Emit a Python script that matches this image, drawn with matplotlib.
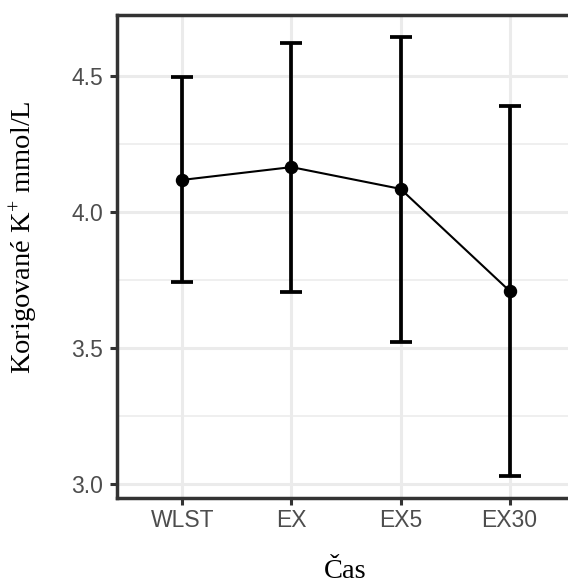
import numpy as np
import matplotlib
matplotlib.use("Agg")
import matplotlib.pyplot as plt
from matplotlib.ticker import MultipleLocator, FormatStrFormatter

# data
categories = ["WLST", "EX", "EX5", "EX30"]
means = [4.118, 4.165, 4.085, 3.710]
upper = [4.496, 4.621, 4.643, 4.390]
lower = [3.743, 3.706, 3.522, 3.029]

plt.rcParams["mathtext.default"] = "regular"

fig = plt.figure(figsize=(5.68, 5.88), dpi=100)
# panel runs past the right edge of the picture, like the reference crop
ax = fig.add_axes([117 / 568, 1 - 498 / 588, 458 / 568, 483 / 588])

x = np.arange(1, len(categories) + 1)
m = np.array(means)
yerr = [m - np.array(lower), np.array(upper) - m]

ax.errorbar(x, m, yerr=yerr, fmt="none", ecolor="black", elinewidth=2.7,
            capsize=8, capthick=2.7, zorder=3)
ax.plot(x, m, color="black", lw=1.5, zorder=4)
ax.scatter(x, m, s=75, color="black", zorder=5)

ax.set_xlim(0.4, 4.6)
ax.set_ylim(2.949, 4.724)
ax.set_xticks(x)
ax.set_xticklabels(categories)
ax.yaxis.set_major_locator(MultipleLocator(0.5))
ax.yaxis.set_minor_locator(MultipleLocator(0.25))
ax.yaxis.set_major_formatter(FormatStrFormatter("%.1f"))

ax.grid(which="major", color="#EBEBEB", lw=2.2, zorder=0)
ax.grid(which="minor", axis="y", color="#EBEBEB", lw=1.1, zorder=0)
ax.set_axisbelow(True)

for s in ax.spines.values():
    s.set_color("#333333")
    s.set_linewidth(2.5)

ax.tick_params(which="major", length=5, width=2.2, color="#333333",
               labelsize=16.5, labelcolor="#4D4D4D", pad=3)
ax.tick_params(axis="y", which="major", pad=5)
ax.tick_params(which="minor", length=0)
for lab in ax.get_xticklabels() + ax.get_yticklabels():
    lab.set_fontfamily("Liberation Sans")

# axis titles placed in figure pixels
fig.text(24 / 568, 1 - 237 / 588, "Korigované K$^{+}$ mmol/L",
         family="Liberation Serif", fontsize=20.5, rotation=90,
         ha="center", va="center")
fig.text(345 / 568, 1 - 571 / 588, "Čas", family="Liberation Serif",
         fontsize=20.5, ha="center", va="center")

fig.savefig("out.png", dpi=100)
